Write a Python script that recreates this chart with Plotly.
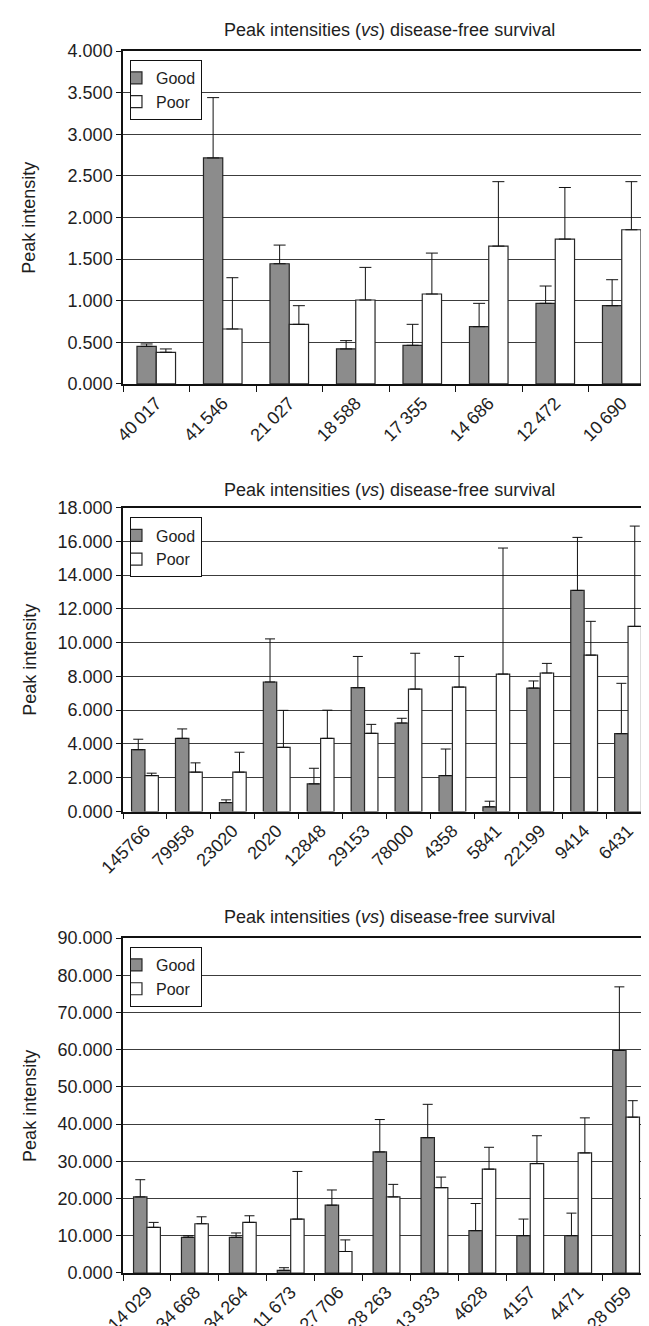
import plotly.graph_objects as go

# ---------------- data ----------------
cats1 = ["40\u2009017", "41\u2009546", "21\u2009027", "18\u2009588", "17\u2009355", "14\u2009686", "12\u2009472", "10\u2009690"]
good1 = [0.452, 2.715, 1.444, 0.420, 0.464, 0.688, 0.968, 0.940]
good1_top = [0.480, 3.440, 1.668, 0.520, 0.716, 0.968, 1.176, 1.252]
poor1 = [0.380, 0.660, 0.716, 1.008, 1.080, 1.656, 1.740, 1.852]
poor1_top = [0.420, 1.276, 0.940, 1.400, 1.572, 2.430, 2.360, 2.430]

cats2 = ["145766", "79958", "23020", "2020", "12848", "29153", "78000", "4358", "5841", "22199", "9414", "6431"]
good2 = [3.66, 4.33, 0.53, 7.67, 1.64, 7.33, 5.24, 2.13, 0.28, 7.31, 13.09, 4.61]
good2_top = [4.28, 4.89, 0.69, 10.22, 2.56, 9.18, 5.52, 3.70, 0.61, 7.73, 16.23, 7.59]
poor2 = [2.13, 2.33, 2.33, 3.80, 4.33, 4.63, 7.25, 7.37, 8.14, 8.20, 9.26, 10.96]
poor2_top = [2.27, 2.88, 3.51, 5.99, 6.00, 5.16, 9.37, 9.18, 15.60, 8.77, 11.26, 16.90]

cats3 = ["14\u2009029", "34\u2009668", "34\u2009264", "11\u2009673", "27\u2009706", "28\u2009263", "13\u2009933", "4628", "4157", "4471", "28\u2009059"]
good3 = [20.44, 9.60, 9.60, 0.71, 18.22, 32.53, 36.36, 11.38, 10.04, 10.04, 59.80]
good3_top = [25.07, 10.00, 10.76, 1.42, 22.31, 41.24, 45.33, 18.67, 14.49, 16.09, 76.90]
poor3 = [12.27, 13.24, 13.60, 14.49, 5.78, 20.44, 22.93, 27.91, 29.42, 32.27, 41.87]
poor3_top = [13.60, 15.10, 15.38, 27.29, 8.89, 23.82, 25.78, 33.78, 36.89, 41.69, 46.31]

y_ranges = [[0, 4], [0, 18], [0, 90]]
y_dticks = [0.5, 2, 10]
title_text = "Peak intensities (<i>vs</i>) disease-free survival"
ytitle_text = "Peak intensity"

# ---------------- layout geometry ----------------
W, H = 649, 1326
ML, MR, MT, MB = 115, 0, 43, 57
plot_h = H - MT - MB
plot_w = W - ML - MR


def fy(px):
    return (H - MB - px) / plot_h


def fx(px):
    return (px - ML) / plot_w


panels = [
    dict(cats=cats1, good=good1, gt=good1_top, poor=poor1, pt=poor1_top,
         top=43, bot=377, right=649, bargap=0.42, cap=6, title_y=22, leg_top=52),
    dict(cats=cats2, good=good2, gt=good2_top, poor=poor2, pt=poor2_top,
         top=501, bot=806, right=644, bargap=0.39, cap=5, title_y=483, leg_top=511),
    dict(cats=cats3, good=good3, gt=good3_top, poor=poor3, pt=poor3_top,
         top=933, bot=1269, right=644, bargap=0.44, cap=5, title_y=912, leg_top=942),
]

FONT = "Liberation Sans, Arial, Helvetica, sans-serif"
GOOD_C = "#8c8c8c"
LINE_C = "#262626"
TXT_C = "#1e1e1e"

fig = go.Figure()
annotations = []
layout_updates = {}

for i, p in enumerate(panels):
    n = i + 1
    xa = "x" if n == 1 else f"x{n}"
    ya = "y" if n == 1 else f"y{n}"
    leg = "legend" if n == 1 else f"legend{n}"
    eg = [t - v for t, v in zip(p["gt"], p["good"])]
    ep = [t - v for t, v in zip(p["pt"], p["poor"])]
    w = (1 - p["bargap"]) / 2
    fig.add_trace(go.Bar(
        x=p["cats"], y=p["good"], name="Good", xaxis=xa, yaxis=ya, legend=leg,
        width=w, offset=-w,
        marker=dict(color=GOOD_C, line=dict(color=LINE_C, width=1.2)),
        error_y=dict(type="data", symmetric=False, array=eg, arrayminus=[0] * len(eg),
                     color="#111", thickness=1, width=p["cap"]),
    ))
    fig.add_trace(go.Bar(
        x=p["cats"], y=p["poor"], name="Poor", xaxis=xa, yaxis=ya, legend=leg,
        width=w, offset=0,
        marker=dict(color="white", line=dict(color=LINE_C, width=1.2)),
        error_y=dict(type="data", symmetric=False, array=ep, arrayminus=[0] * len(ep),
                     color="#111", thickness=1, width=p["cap"]),
    ))

    xkey = "xaxis" if n == 1 else f"xaxis{n}"
    ykey = "yaxis" if n == 1 else f"yaxis{n}"
    layout_updates[xkey] = dict(
        domain=[0, fx(p["right"])], anchor=ya, type="category",
        showline=True, linecolor="#111", linewidth=1.5, mirror=True,
        ticks="outside", ticklen=6, tickcolor="#111", tickson="boundaries",
        tickangle=-45, tickfont=dict(family=FONT, size=18, color=TXT_C),
        showgrid=False,
    )
    layout_updates[ykey] = dict(
        domain=[fy(p["bot"]), fy(p["top"])], anchor=xa,
        range=y_ranges[i], dtick=y_dticks[i], tick0=0, tickformat=".3f",
        showline=True, linecolor="#111", linewidth=1.5, mirror=True,
        ticks="outside", ticklen=5, tickcolor="#111",
        tickfont=dict(family=FONT, size=18, color=TXT_C),
        showgrid=True, gridcolor="#3c3c3c", gridwidth=1.4, zeroline=False,
    )
    layout_updates[leg] = dict(
        x=fx(122), y=fy(p["leg_top"]), xanchor="left", yanchor="top",
        xref="paper", yref="paper",
        bordercolor="#111", borderwidth=1, bgcolor="white",
        font=dict(family=FONT, size=16, color=TXT_C),
        itemwidth=30, tracegroupgap=0, indentation=-15,
    )
    annotations.append(dict(
        text=title_text, xref="paper", yref="paper", x=fx(383), y=fy(p["title_y"]),
        xanchor="center", yanchor="middle", showarrow=False,
        font=dict(family=FONT, size=18, color=TXT_C),
    ))
    annotations.append(dict(
        text=ytitle_text, xref="paper", yref="paper", x=fx(21),
        y=(fy(p["bot"]) + fy(p["top"])) / 2, xanchor="center", yanchor="middle",
        textangle=-90, showarrow=False,
        font=dict(family=FONT, size=18, color=TXT_C),
    ))

fig.update_layout(
    width=W, height=H, margin=dict(l=ML, r=MR, t=MT, b=MB),
    paper_bgcolor="white", plot_bgcolor="white",
    barmode="group", bargroupgap=0,
    showlegend=True, annotations=annotations,
    **layout_updates,
)

fig.write_html("out.html")
